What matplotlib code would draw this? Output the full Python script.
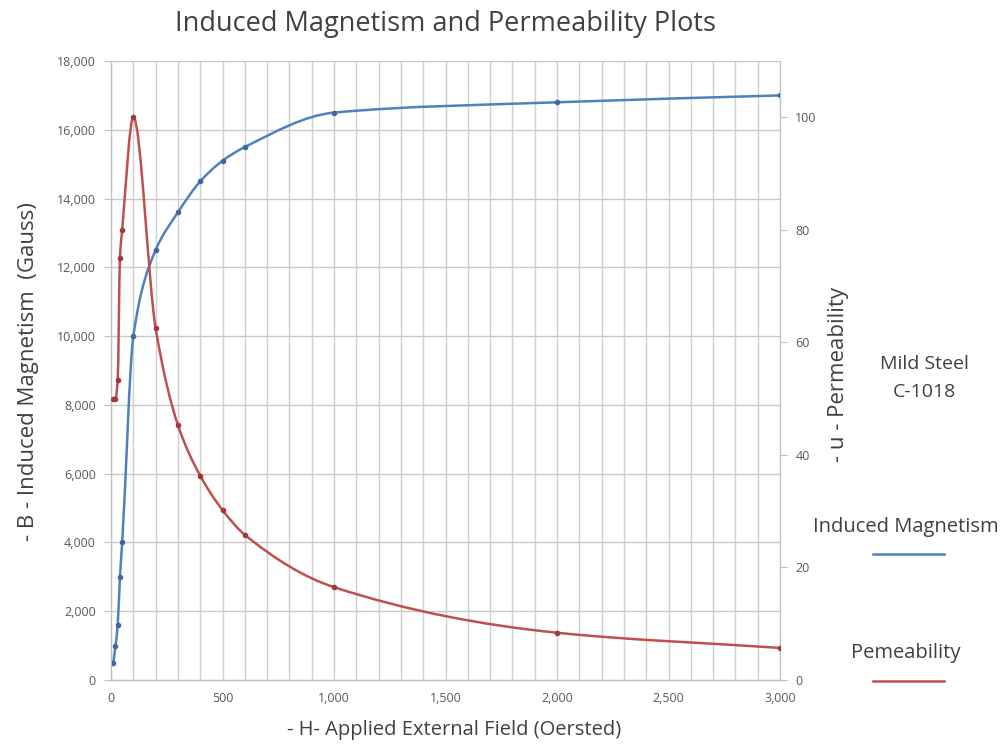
import numpy as np
import matplotlib.pyplot as plt
from matplotlib.path import Path
from matplotlib.patches import PathPatch
from matplotlib.ticker import FuncFormatter, MultipleLocator

plt.rcParams['font.family'] = ['Open Sans', 'DejaVu Sans']

# data
H = [10, 20, 30, 40, 50, 100, 200, 300, 400, 500, 600, 1000, 2000, 3000]  # Oersted
B = [500, 1000, 1600, 3000, 4000, 10000, 12500, 13600, 14500, 15100, 15500, 16500, 16800, 17000]  # Gauss
u = [50, 50, 53.3, 75, 80, 100, 62.5, 45.3, 36.3, 30.2, 25.8, 16.5, 8.4, 5.7]  # permeability

blue = '#4f81bd'
red = '#c0504d'
txt = '#404040'


def smooth_path(xs, ys):
    # smoothed line (like excel) : cubic bezier with pchip style slopes, no wiggles
    x = np.asarray(xs, float)
    y = np.asarray(ys, float)
    h = np.diff(x)
    d = np.diff(y) / h
    m = np.zeros_like(y)
    for i in range(1, len(x) - 1):
        if d[i - 1] * d[i] > 0:
            w1 = 2 * h[i] + h[i - 1]
            w2 = h[i] + 2 * h[i - 1]
            m[i] = (w1 + w2) / (w1 / d[i - 1] + w2 / d[i])
    m[0] = d[0]
    m[-1] = d[-1]
    verts = [(x[0], y[0])]
    codes = [Path.MOVETO]
    for i in range(len(x) - 1):
        verts += [(x[i] + h[i] / 3, y[i] + m[i] * h[i] / 3),
                  (x[i + 1] - h[i] / 3, y[i + 1] - m[i + 1] * h[i] / 3),
                  (x[i + 1], y[i + 1])]
        codes += [Path.CURVE4] * 3
    return Path(verts, codes)


fig = plt.figure(figsize=(10.03, 7.47), dpi=100)
ax = fig.add_axes([0.1107, 0.0897, 0.667, 0.8286])
ax2 = ax.twinx()

ax.set_xlim(0, 3000)
ax.set_ylim(0, 18000)
ax2.set_ylim(0, 110)

ax.xaxis.set_major_locator(MultipleLocator(500))
ax.xaxis.set_minor_locator(MultipleLocator(100))
ax.yaxis.set_major_locator(MultipleLocator(2000))
ax2.yaxis.set_major_locator(MultipleLocator(20))
fmt = FuncFormatter(lambda v, p: '{:,.0f}'.format(v))
ax.xaxis.set_major_formatter(fmt)
ax.yaxis.set_major_formatter(fmt)

ax.grid(which='both', axis='x', color='#d0d0d0', lw=1.0)
ax.grid(which='major', axis='y', color='#c8c8c8', lw=1.0)
ax.set_axisbelow(True)

for a in (ax, ax2):
    for s in a.spines.values():
        s.set_color('#bfbfbf')
    a.tick_params(colors='#bfbfbf', labelcolor='#595959', labelsize=9, length=5, pad=6)
ax.spines['top'].set_visible(False)
ax2.spines['top'].set_visible(False)
ax.tick_params(axis='x', which='minor', length=0)
ax.tick_params(axis='x', length=0, pad=9)

ax.add_patch(PathPatch(smooth_path(H, B), fill=False, ec=blue, lw=1.8, zorder=3))
ax.plot(H, B, ls='none', marker='o', ms=3, color='#3a6a9f', zorder=4)
ax2.add_patch(PathPatch(smooth_path(H, u), fill=False, ec=red, lw=1.8, zorder=3))
ax2.plot(H, u, ls='none', marker='o', ms=3, color='#a03a38', zorder=4)

fig.text(0.444, 0.968, 'Induced Magnetism and Permeability Plots', ha='center', va='center',
         fontsize=19.5, color=txt)
fig.text(0.453, 0.023, '- H- Applied External Field (Oersted)', ha='center', va='center',
         fontsize=14.5, color=txt)
fig.text(0.028, 0.502, '- B - Induced Magnetism  (Gauss)', ha='center', va='center',
         rotation=90, fontsize=16, color=txt)
fig.text(0.836, 0.498, '- u - Permeability', ha='center', va='center',
         rotation=90, fontsize=16, color=txt)

fig.text(0.922, 0.513, 'Mild Steel', ha='center', va='center', fontsize=14, color=txt)
fig.text(0.922, 0.475, 'C-1018', ha='center', va='center', fontsize=14, color=txt)

# legend drawn by hand at the right side, like the original
fig.text(0.903, 0.294, 'Induced Magnetism', ha='center', va='center', fontsize=14.5, color=txt)
fig.add_artist(plt.Line2D([0.870, 0.941], [0.258, 0.258], color=blue, lw=1.8))
fig.text(0.903, 0.126, 'Pemeability', ha='center', va='center', fontsize=14.5, color=txt)
fig.add_artist(plt.Line2D([0.870, 0.941], [0.088, 0.088], color=red, lw=1.8))

fig.savefig('out.png', dpi=100)
